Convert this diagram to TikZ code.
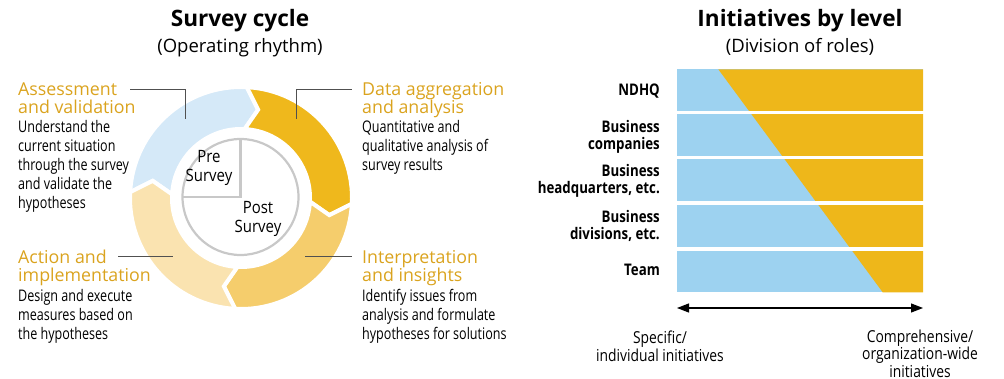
\documentclass[tikz,border=0pt]{standalone}
\usepackage{fontspec}
\setmainfont{Open Sans}
\newfontfamily\condf{Open Sans}[FakeStretch=0.785]
\newfontfamily\axf{Open Sans}[FakeStretch=0.84]
\newfontfamily\rowf{Open Sans}[FakeStretch=0.83]
\newfontfamily\midf{Open Sans}[FakeStretch=0.88]
\usetikzlibrary{calc,arrows.meta}
\definecolor{segblue}{RGB}{213,233,248}
\definecolor{segdark}{RGB}{239,184,28}
\definecolor{segmid}{RGB}{245,205,108}
\definecolor{seglight}{RGB}{250,227,176}
\definecolor{gold}{RGB}{218,163,30}
\definecolor{barblue}{RGB}{157,210,240}
\definecolor{baryellow}{RGB}{238,183,26}
\definecolor{leader}{RGB}{80,80,80}
\definecolor{innergray}{RGB}{200,200,200}
\newcommand{\ringseg}[3]{%
  \fill[#3, draw=white, line width=4pt, line join=miter]
    ($(c)+(#1:111)$) arc[start angle=#1, end angle=#2, radius=111]
    -- ($(c)+(#2-8:90)$) -- ($(c)+(#2:69)$)
    arc[start angle=#2, end angle=#1, radius=69]
    -- ($(c)+(#1-8:90)$) -- cycle;}
\begin{document}
\begin{tikzpicture}[x=1pt,y=1pt,
  maintitle/.style={font=\fontsize{22.6}{26}\selectfont\bfseries, anchor=base, inner sep=0pt},
  subtitle/.style={font=\fontsize{18.5}{21}\selectfont, anchor=base, inner sep=0pt},
  steptitle/.style={font=\fontsize{17.8}{18}\selectfont, text=gold, anchor=base west, align=left, inner sep=0pt},
  stepbody/.style={font=\condf\fontsize{16}{19}\selectfont, anchor=base west, align=left, inner sep=0pt},
  rowlabel/.style={font=\rowf\bfseries\fontsize{16}{17}\selectfont, anchor=east, align=right, inner sep=0pt},
  axislabel/.style={font=\axf\fontsize{16.5}{17.5}\selectfont, anchor=base, align=center, inner sep=0pt},
  centerlabel/.style={font=\midf\fontsize{17}{19.5}\selectfont, anchor=base, align=center, inner sep=0pt},
  leaderline/.style={draw=leader, line width=1pt}
]
\useasboundingbox (0,0) rectangle (1004,-379);
% ---------- left: survey cycle ----------
\node[maintitle] (t1) at (240,-27) {Survey cycle};
\node[subtitle] (s1) at (240,-53) {(Operating rhythm)};
\coordinate (c) at (241,-198);
\ringseg{177}{87}{segblue}
\ringseg{87}{-3}{segdark}
\ringseg{-3}{-93}{segmid}
\ringseg{-93}{-183}{seglight}
% inner circle
\coordinate (ic) at (240.5,-197);
\draw[innergray, line width=2.2pt] (ic) circle[radius=58];
\coordinate (ictop) at (240.5,-139);
\coordinate (icleft) at (182.5,-197);
\draw[innergray, line width=2.2pt] (ictop) -- (ic) -- (icleft);
\node[centerlabel] (pre) at (209,-182) {Pre\\Survey};
\node[centerlabel] (post) at (258,-233) {Post\\Survey};
% step labels (base = last line)
\node[steptitle] (a1) at (18,-114) {Assessment\\and validation};
\node[stepbody] (a2) at (18,-209) {Understand the\\current situation\\through the survey\\and validate the\\hypotheses};
\node[steptitle] (d1) at (362,-114) {Data aggregation\\and analysis};
\node[stepbody] (d2) at (362,-171) {Quantitative and\\qualitative analysis of\\survey results};
\node[steptitle] (b1) at (18,-282) {Action and\\implementation};
\node[stepbody] (b2) at (18,-340) {Design and execute\\measures based on\\the hypotheses};
\node[steptitle] (i1) at (362,-282) {Interpretation\\and insights};
\node[stepbody] (i2) at (362,-340) {Identify issues from\\analysis and formulate\\hypotheses for solutions};
% leader lines
\coordinate (la1) at (130,-90); \coordinate (la2) at (185,-90); \coordinate (la3) at (185,-119);
\draw[leaderline] (la1) -- (la2) -- (la3);
\coordinate (ld1) at (296,-119); \coordinate (ld2) at (296,-90); \coordinate (ld3) at (352,-90);
\draw[leaderline] (ld1) -- (ld2) -- (ld3);
\coordinate (lb1) at (118,-257); \coordinate (lb2) at (173,-257);
\draw[leaderline] (lb1) -- (lb2);
\coordinate (li1) at (305,-257); \coordinate (li2) at (352,-257);
\draw[leaderline] (li1) -- (li2);
% ---------- right: initiatives by level ----------
\node[maintitle] (t2) at (800,-27) {Initiatives by level};
\node[subtitle] (s2) at (800,-53) {(Division of roles)};
\fill[barblue] (677,-69.3) rectangle (923,-292.3);
\fill[baryellow] (718.3,-69.3) -- (923,-69.3) -- (923,-292.3) -- (882.7,-292.3) -- cycle;
\fill[white] (676,-111) rectangle (924,-114.3);
\fill[white] (676,-156) rectangle (924,-159.3);
\fill[white] (676,-201.3) rectangle (924,-205);
\fill[white] (676,-246.7) rectangle (924,-250.7);
\node[rowlabel] (r1) at (660,-91) {NDHQ};
\node[rowlabel] (r2) at (660,-136.5) {Business\\companies};
\node[rowlabel] (r3) at (660,-180.5) {Business\\headquarters, etc.};
\node[rowlabel] (r4) at (660,-225.5) {Business\\divisions, etc.};
\node[rowlabel] (r5) at (660,-270) {Team};
\coordinate (al) at (677,-308); \coordinate (ar) at (923,-308);
\draw[line width=1.2pt, {Triangle[length=12pt,width=9pt]}-{Triangle[length=12pt,width=9pt]}] (al) -- (ar);
\node[axislabel] (x1) at (660,-361) {Specific/\\individual initiatives};
\node[axislabel] (x2) at (920,-377) {Comprehensive/\\organization-wide\\initiatives};
\end{tikzpicture}
\end{document}
